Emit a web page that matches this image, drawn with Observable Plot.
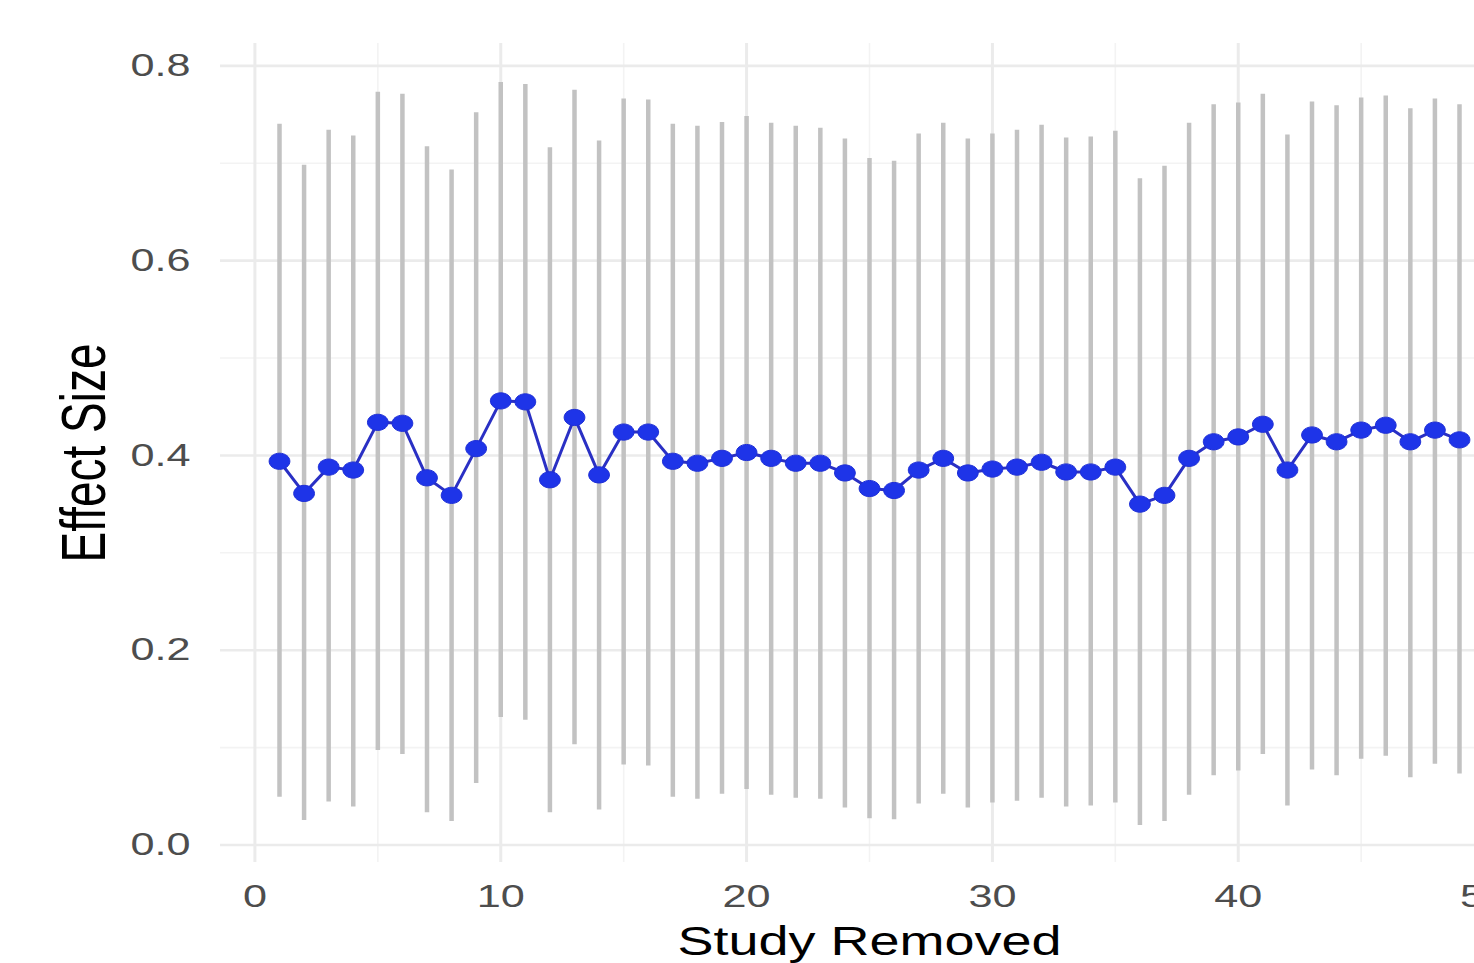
<!DOCTYPE html>
<html><head><meta charset="utf-8">
<script src="https://cdn.jsdelivr.net/npm/d3@7"></script>
<script src="https://cdn.jsdelivr.net/npm/@observablehq/plot@0.6"></script>
<style>html,body{margin:0;padding:0;background:#fff;overflow:hidden;width:1474px;height:963px}</style>
</head><body><div id="chart"></div>
<script>
const study = [1,2,3,4,5,6,7,8,9,10,11,12,13,14,15,16,17,18,19,20,21,22,23,24,25,26,27,28,29,30,31,32,33,34,35,36,37,38,39,40,41,42,43,44,45,46,47,48,49];
const effect = [0.394,0.361,0.388,0.385,0.434,0.433,0.377,0.359,0.407,0.456,
                0.455,0.375,0.439,0.380,0.424,0.424,0.394,0.392,0.397,0.403,
                0.397,0.392,0.392,0.382,0.366,0.364,0.385,0.397,0.382,0.386,
                0.388,0.393,0.383,0.383,0.388,0.350,0.359,0.397,0.414,0.419,
                0.432,0.385,0.421,0.414,0.426,0.431,0.414,0.426,0.416];
const upper = [0.740,0.698,0.734,0.728,0.773,0.771,0.717,0.693,0.752,0.783,
               0.781,0.716,0.775,0.723,0.766,0.765,0.740,0.738,0.742,0.748,
               0.741,0.738,0.736,0.725,0.705,0.702,0.730,0.741,0.725,0.730,
               0.734,0.739,0.726,0.727,0.733,0.684,0.697,0.741,0.760,0.762,
               0.771,0.729,0.763,0.759,0.767,0.769,0.756,0.766,0.760];
const lower = [0.049,0.025,0.044,0.039,0.097,0.093,0.033,0.024,0.063,0.131,
               0.128,0.033,0.103,0.036,0.082,0.081,0.049,0.047,0.052,0.057,
               0.051,0.048,0.047,0.038,0.027,0.026,0.042,0.052,0.038,0.043,
               0.045,0.048,0.039,0.040,0.043,0.020,0.024,0.051,0.071,0.076,
               0.093,0.040,0.077,0.071,0.088,0.091,0.069,0.083,0.073];
const xMajor = [0,10,20,30,40,50];
const xMinor = [5,15,25,35,45];
const yMajor = [0,0.2,0.4,0.6,0.8];
const yMinor = [0.1,0.3,0.5,0.7];
const xTitle = "Study Removed";
const yTitle = "Effect Size";

const rows = study.map((s,i)=>({study:s, effect:effect[i], lower:lower[i], upper:upper[i]}));

// horizontally stretched ellipse symbol
const ellipse = {
  draw(ctx, size) {
    const r = Math.sqrt(size/Math.PI), rx = r*1.18, ry = r*0.92, k = 0.5523;
    ctx.moveTo(rx,0);
    ctx.bezierCurveTo(rx, ry*k, rx*k, ry, 0, ry);
    ctx.bezierCurveTo(-rx*k, ry, -rx, ry*k, -rx, 0);
    ctx.bezierCurveTo(-rx, -ry*k, -rx*k, -ry, 0, -ry);
    ctx.bezierCurveTo(rx*k, -ry, rx, -ry*k, rx, 0);
    ctx.closePath();
  }
};

const chart = Plot.plot({
  width: 1520, height: 963,
  marginLeft: 220, marginRight: 2, marginTop: 43, marginBottom: 101,
  style: {fontFamily: "Liberation Sans, Arial, sans-serif", fontSize: "32px", color: "#4d4d4d", background: "#fff", maxWidth: "none", overflow: "visible"},
  x: {domain: [-1.4, 51.4], ticks: xMajor, tickSize: 0, tickPadding: 22, label: null, tickFormat: d => String(d)},
  y: {domain: [-0.018, 0.823], ticks: yMajor, tickSize: 0, tickPadding: 30, label: null, tickFormat: d => d.toFixed(1)},
  marks: [
    Plot.ruleY(yMinor, {stroke: "#f3f3f3", strokeWidth: 1.6}),
    Plot.ruleX(xMinor, {stroke: "#f3f3f3", strokeWidth: 1.6}),
    Plot.ruleY(yMajor, {stroke: "#ebebeb", strokeWidth: 2.6}),
    Plot.ruleX(xMajor, {stroke: "#ebebeb", strokeWidth: 3}),
    Plot.ruleX(rows, {x: "study", y1: "lower", y2: "upper", stroke: "#c2c2c2", strokeWidth: 4.5}),
    Plot.line(rows, {x: "study", y: "effect", stroke: "#2a30c4", strokeWidth: 3}),
    Plot.dot(rows, {x: "study", y: "effect", r: 8.8, symbol: ellipse, fill: "#1e34e8", stroke: "#1e2fd6", strokeWidth: 1}),
    Plot.text([xTitle], {frameAnchor: "bottom", textAnchor: "middle", dy: 92, fontSize: 40, fill: "#000"}),
    Plot.text([yTitle], {frameAnchor: "left", textAnchor: "middle", lineAnchor: "middle", dx: -135, rotate: -90, fontSize: 46, fill: "#000"})
  ]
});
document.getElementById("chart").append(chart);

// the reference image is horizontally stretched: widen glyphs by the same factor
const S = 1.35;
d3.select(chart).selectAll("text").each(function() {
  const t = this.getAttribute("transform") || "";
  if (t.includes("rotate")) {
    this.setAttribute("transform", t + ` scale(1,${S})`);
  } else {
    const w = this.getComputedTextLength();
    this.setAttribute("textLength", w * S);
    this.setAttribute("lengthAdjust", "spacingAndGlyphs");
  }
});
</script>
</body></html>
